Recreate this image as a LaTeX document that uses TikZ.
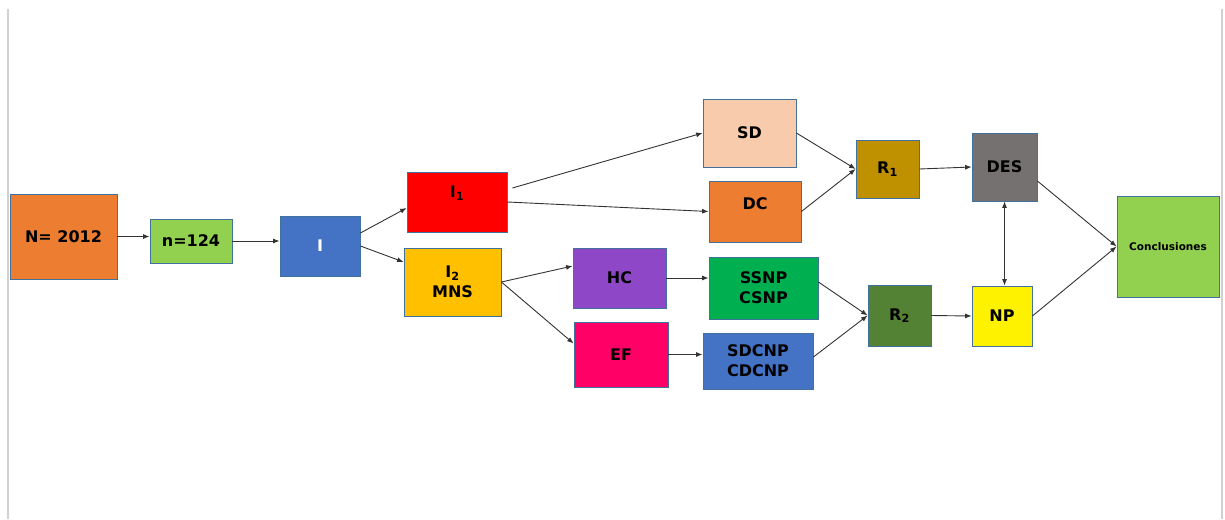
\documentclass[tikz,border=0pt]{standalone}
\usepackage{fontspec}
\setmainfont{DejaVu Sans}
\usepackage{tikz}
\usetikzlibrary{arrows.meta}
\definecolor{borde}{HTML}{41719C}
\definecolor{naranja}{HTML}{ED7D31}
\definecolor{verdeclaro}{HTML}{92D050}
\definecolor{azul}{HTML}{4472C4}
\definecolor{oro}{HTML}{FFC000}
\definecolor{salmon}{HTML}{F8CBAD}
\definecolor{morado}{HTML}{8E47C7}
\definecolor{verde}{HTML}{00B050}
\definecolor{fucsia}{HTML}{FF0066}
\definecolor{ocre}{HTML}{BF9000}
\definecolor{oliva}{HTML}{548235}
\definecolor{gris}{HTML}{767171}
\definecolor{marco}{HTML}{D0D0D0}
\tikzset{caja/.style={draw=borde, line width=0.8pt, inner sep=0pt, align=center,
                      font=\fontsize{16}{20}\selectfont\bfseries},
         flecha/.style={-{Latex[length=6.5pt,width=5pt]}, line width=0.9pt, draw=black!80}}

\begin{document}
\begin{tikzpicture}[x=1pt,y=-1pt]
\useasboundingbox (0,0) rectangle (1225,519);
\draw[marco, line width=1.5pt] (8,9)--(8,519);
\draw[marco, line width=1.5pt] (1222,9)--(1222,519);
% cajas
\node[caja, fill=naranja, minimum width=107pt, minimum height=85pt] (N) at (63.5,236.5) {N= 2012};
\node[caja, fill=verdeclaro, minimum width=82pt, minimum height=44pt] (n) at (191,241) {n=124};
\node[caja, fill=azul, text=white, minimum width=80pt, minimum height=60pt] (I) at (320,246) {I};
\node[caja, fill=red, minimum width=100pt, minimum height=60pt, text depth=20pt] (I1) at (457,202) {I\textsubscript{1}};
\node[caja, fill=oro, minimum width=97pt, minimum height=68pt] (I2) at (452.5,282) {I\textsubscript{2}\\MNS};
\node[caja, fill=salmon, minimum width=93pt, minimum height=68pt] (SD) at (749.5,133) {SD};
\node[caja, fill=naranja, minimum width=92pt, minimum height=61pt, text depth=16pt] (DC) at (755,211.5) {DC};
\node[caja, fill=morado, minimum width=93pt, minimum height=60pt] (HC) at (619.5,278) {HC};
\node[caja, fill=verde, minimum width=109pt, minimum height=62pt] (SSNP) at (763.5,288) {SSNP\\CSNP};
\node[caja, fill=fucsia, minimum width=94pt, minimum height=65pt] (EF) at (621,354.5) {EF};
\node[caja, fill=azul, minimum width=110pt, minimum height=56pt] (SDCNP) at (758,361) {SDCNP\\CDCNP};
\node[caja, fill=ocre, minimum width=63pt, minimum height=58pt] (R1) at (887.5,169) {R\textsubscript{1}};
\node[caja, fill=gris, minimum width=65pt, minimum height=68pt] (DES) at (1004.5,167) {DES};
\node[caja, fill=oliva, minimum width=63pt, minimum height=61pt] (R2) at (899.5,315.5) {R\textsubscript{2}};
\node[caja, fill=yellow, minimum width=60pt, minimum height=60pt] (NP) at (1002,316) {NP};
\node[caja, fill=verdeclaro, minimum width=102pt, minimum height=101pt,
      font=\fontsize{10.5}{12}\selectfont\bfseries] (C) at (1168,246.5) {Conclusiones};
% flechas
\draw[flecha] (N.east) -- (N.east -| n.west);
\draw[flecha] (n.east) -- (n.east -| I.west);
\draw[flecha] ([yshift=13pt]I.east) -- ([yshift=-6pt]I1.west);
\draw[flecha] (I.east) -- ([yshift=20pt]I2.west);
\draw[flecha] ([xshift=5pt,yshift=14pt]I1.east) -- (SD.west);
\draw[flecha] (I1.east) -- (DC.west);
\draw[flecha] (I2.east) -- ([yshift=12pt]HC.west);
\draw[flecha] (I2.east) -- ([yshift=11pt]EF.west);
\draw[flecha] (HC.east) -- (HC.east -| SSNP.west);
\draw[flecha] (EF.east) -- (EF.east -| SDCNP.west);
\draw[flecha] (SD.east) -- (R1.west);
\draw[flecha] (DC.east) -- (R1.west);
\draw[flecha] (R1.east) -- (DES.west);
\draw[flecha] ([yshift=6pt]SSNP.east) -- (R2.west);
\draw[flecha] ([yshift=4pt]SDCNP.east) -- (R2.west);
\draw[flecha] (R2.east) -- (NP.west);
\draw[flecha, {Latex[length=6.5pt,width=5pt]}-{Latex[length=6.5pt,width=5pt]}] (DES.south) -- (DES.south |- NP.north);
\draw[flecha] ([yshift=-14pt]DES.east) -- (C.west);
\draw[flecha] (NP.east) -- (C.west);
\end{tikzpicture}
\end{document}
